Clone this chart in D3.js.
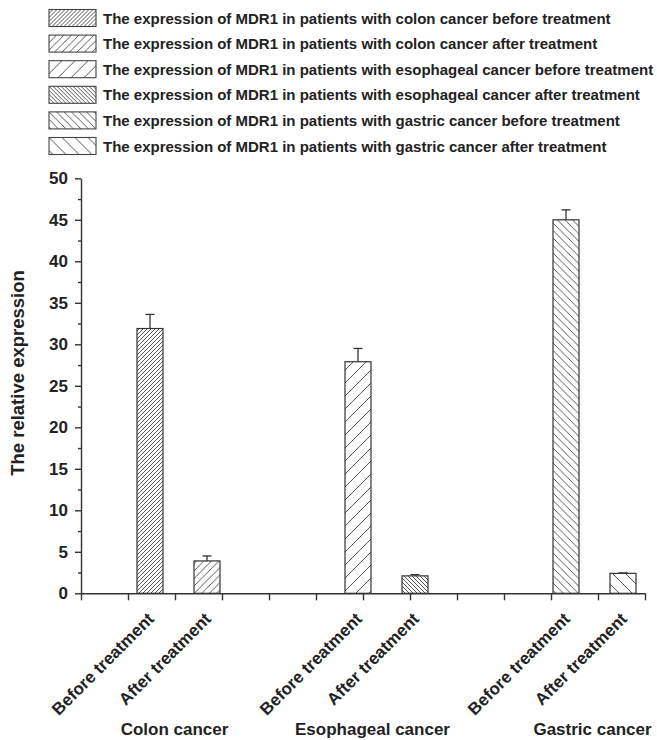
<!DOCTYPE html>
<html>
<head>
<meta charset="utf-8">
<script src="https://cdn.jsdelivr.net/npm/d3@7"></script>
<style>
  html, body { margin: 0; padding: 0; background: #fff; }
  svg { display: block; font-family: "Liberation Sans", Arial, sans-serif; }
</style>
</head>
<body>
<svg id="chart" width="657" height="740"></svg>
<script>
// ---------- data ----------
const groups = ["Colon cancer", "Esophageal cancer", "Gastric cancer"];
const stages = ["Before treatment", "After treatment"];
const beforeValues = [31.9, 27.9, 45.0];
const afterValues  = [3.9, 2.1, 2.4];
const beforeErrors = [1.7, 1.6, 1.2];
const afterErrors  = [0.6, 0.15, 0.06];
const legendLabels = [
  "The expression of MDR1 in patients with colon cancer before treatment",
  "The expression of MDR1 in patients with colon cancer after treatment",
  "The expression of MDR1 in patients with esophageal cancer before treatment",
  "The expression of MDR1 in patients with esophageal cancer after treatment",
  "The expression of MDR1 in patients with gastric cancer before treatment",
  "The expression of MDR1 in patients with gastric cancer after treatment"
];
const yTickValues = [0, 5, 10, 15, 20, 25, 30, 35, 40, 45, 50];
const yTitle = "The relative expression";

// ---------- styling / layout ----------
const ink = "#222";
const lineInk = "#333";
// hatch style per series: [direction, spacing]
const hatch = [["/", 4], ["/", 7.5], ["/", 13], ["\\", 4], ["\\", 7.5], ["\\", 13]];
const groupLabelDx = [-4, -14, -2];

const svg = d3.select("#chart");
const defs = svg.append("defs");
hatch.forEach(([dir, s], i) => {
  const p = defs.append("pattern")
    .attr("id", "hatch" + i)
    .attr("patternUnits", "userSpaceOnUse")
    .attr("width", s).attr("height", s);
  p.append("rect").attr("width", s).attr("height", s).attr("fill", "#fff");
  const d = dir === "/"
    ? `M-1,1 L1,-1 M0,${s} L${s},0 M${s - 1},${s + 1} L${s + 1},${s - 1}`
    : `M-1,${s - 1} L1,${s + 1} M0,0 L${s},${s} M${s - 1},-1 L${s + 1},1`;
  p.append("path").attr("d", d).attr("stroke", "#444").attr("stroke-width", 0.9).attr("fill", "none");
});

// scales
const y = d3.scaleLinear().domain([0, 50]).range([593.3, 178.3]);
const xGroup = d3.scalePoint().domain(groups).range([178.5, 594.5]);
const xStage = d3.scalePoint().domain(stages).range([-28.5, 28.5]);
const xAxisScale = d3.scaleLinear().domain([0, 12]).range([81, 645]);
const barW = 26;

// data rows
const rows = [];
groups.forEach((g, gi) => {
  rows.push({ group: g, stage: stages[0], value: beforeValues[gi], err: beforeErrors[gi], series: gi * 2 });
  rows.push({ group: g, stage: stages[1], value: afterValues[gi], err: afterErrors[gi], series: gi * 2 + 1 });
});
const cx = d => xGroup(d.group) + xStage(d.stage);

// error bars
const eb = svg.append("g").attr("stroke", lineInk).attr("stroke-width", 1.3);
eb.selectAll("line.v").data(rows).join("line")
  .attr("x1", cx).attr("x2", cx)
  .attr("y1", d => y(d.value)).attr("y2", d => y(d.value + d.err));
eb.selectAll("line.c").data(rows).join("line")
  .attr("x1", d => cx(d) - 4.5).attr("x2", d => cx(d) + 4.5)
  .attr("y1", d => y(d.value + d.err)).attr("y2", d => y(d.value + d.err));

// bars
svg.append("g").selectAll("rect").data(rows).join("rect")
  .attr("x", d => cx(d) - barW / 2)
  .attr("y", d => y(d.value))
  .attr("width", barW)
  .attr("height", d => y(0) - y(d.value))
  .attr("fill", d => `url(#hatch${d.series})`)
  .attr("stroke", lineInk).attr("stroke-width", 1.2);

// y axis
const yAxis = svg.append("g").attr("transform", "translate(81,0)")
  .call(d3.axisLeft(y).tickValues(yTickValues).tickSize(6).tickSizeOuter(0).tickPadding(7));
const yMinor = svg.append("g").attr("transform", "translate(81,0)")
  .call(d3.axisLeft(y).tickValues(d3.range(2.5, 50, 5)).tickSize(3).tickFormat("").tickSizeOuter(0));
yMinor.select(".domain").remove();
[yAxis, yMinor].forEach(a => {
  a.selectAll("path,line").attr("stroke", lineInk).attr("stroke-width", 1.4);
});
yAxis.selectAll("text").attr("fill", ink).attr("font-size", 17).attr("font-weight", "bold");

// x axis
const xAxis = svg.append("g").attr("transform", `translate(0,${y(0)})`)
  .call(d3.axisBottom(xAxisScale).ticks(12).tickSize(7).tickSizeOuter(0).tickFormat(""));
xAxis.selectAll("path,line").attr("stroke", lineInk).attr("stroke-width", 1.4);

// rotated stage labels
svg.append("g").selectAll("text").data(rows).join("text")
  .attr("transform", d => `translate(${cx(d) + 5},${620}) rotate(-45)`)
  .attr("text-anchor", "end")
  .attr("font-size", 17).attr("font-weight", "bold").attr("fill", ink)
  .text(d => d.stage);

// group labels
svg.append("g").selectAll("text").data(groups).join("text")
  .attr("x", (g, i) => xGroup(g) + groupLabelDx[i])
  .attr("y", 735)
  .attr("text-anchor", "middle")
  .attr("font-size", 17).attr("font-weight", "bold").attr("fill", ink)
  .text(g => g);

// y title
svg.append("text")
  .attr("transform", "translate(24,373) rotate(-90)")
  .attr("text-anchor", "middle")
  .attr("font-size", 18.5).attr("font-weight", "bold").attr("fill", ink)
  .text(yTitle);

// legend
const leg = svg.append("g");
const legItems = leg.selectAll("g").data(legendLabels).join("g")
  .attr("transform", (d, i) => `translate(49,${9.5 + i * 25.6})`);
legItems.append("rect")
  .attr("width", 47).attr("height", 17)
  .attr("fill", (d, i) => `url(#hatch${i})`)
  .attr("stroke", "#444").attr("stroke-width", 1.1);
legItems.append("text")
  .attr("x", 54).attr("y", 14)
  .attr("font-size", 15).attr("font-weight", "bold").attr("fill", ink)
  .text(d => d);
</script>
</body>
</html>
